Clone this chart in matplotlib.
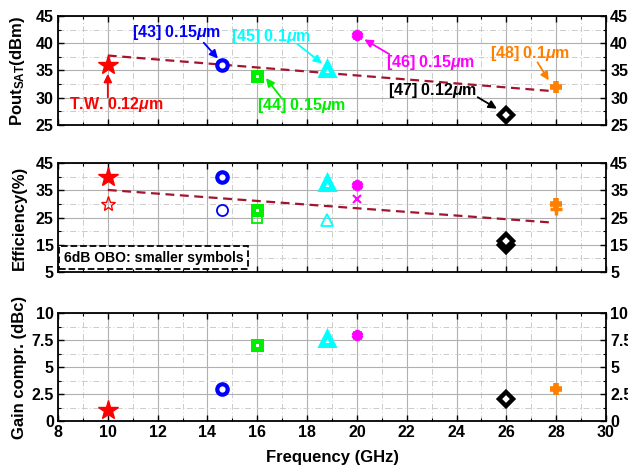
import matplotlib
matplotlib.use("Agg")
import matplotlib.pyplot as plt
from matplotlib.ticker import MultipleLocator, FixedLocator
import numpy as np

plt.rcParams['font.family'] = ['Liberation Sans', 'DejaVu Sans']
plt.rcParams['font.weight'] = 'bold'
plt.rcParams['mathtext.fontset'] = 'custom'
plt.rcParams['mathtext.rm'] = 'Liberation Sans:bold'
plt.rcParams['mathtext.bf'] = 'Liberation Sans:bold'
plt.rcParams['mathtext.it'] = 'Liberation Sans:italic'

# ---------------- data ----------------
labels = ["T.W.", "[43]", "[44]", "[45]", "[46]", "[47]", "[48]"]
freq = [10, 14.6, 16, 18.8, 20, 26, 28]
pout = [36, 36, 34, 35.3, 41.5, 26.8, 32]
eff = [40, 39.7, 27.8, 37.5, 36.8, 16.5, 30]
eff_obo = [30, 27.8, 24.8, 24, 31.8, 14.8, 28]
gain_compr = [1, 3, 7, 7.6, 8, 2, 3]
colors = ['#ff0000', '#0000ff', '#00ee00', '#00ffff', '#ff00ff', '#000000', '#ff8000']

trend_f = [10, 27.9]
trend_pout = [37.75, 31.2]
trend_eff = [35.1, 23.1]

ann_text = ["T.W. 0.12$\\mu$m", "[43] 0.15$\\mu$m", "[44] 0.15$\\mu$m", "[45] 0.1$\\mu$m",
            "[46] 0.15$\\mu$m", "[47] 0.12$\\mu$m", "[48] 0.1$\\mu$m"]
ann_xy_text = [(10.33, 28.67), (12.76, 41.9), (17.76, 28.5), (16.55, 41.15),
               (22.97, 36.4), (23.05, 31.4), (26.95, 38.2)]
ann_tail = [(10, 30.1), (13.85, 40.1), (16.95, 30.1), (17.6, 39.9),
            (21.3, 38.0), (24.85, 30.1), (27.25, 36.5)]
ann_head = [(10, 34.4), (14.42, 37.2), (16.35, 33.6), (18.6, 36.3),
            (20.3, 40.7), (25.62, 28.0), (27.7, 33.2)]

# marker styles (main / OBO)
main_style = [
    dict(marker='*', ms=15, mfc='#ff0000', mec='#ff0000', mew=1),
    dict(marker='o', ms=7.5, mfc='white', mec='#0000ff', mew=3),
    dict(marker='s', ms=6, mfc='white', mec='#00ee00', mew=3.6),
    dict(marker='^', ms=9, mfc='white', mec='#00ffff', mew=3.6),
    dict(marker=(6, 1, 0), ms=7, mfc='#ff00ff', mec='#ff00ff', mew=3),
    dict(marker='D', ms=7.5, mfc='white', mec='#000000', mew=3.2),
    dict(marker='+', ms=9, mfc='#ff8000', mec='#ff8000', mew=4),
]
obo_style = [
    dict(marker='*', ms=11, mfc='none', mec='#ff0000', mew=1),
    dict(marker='o', ms=8, mfc='none', mec='#0000ff', mew=1.3),
    dict(marker='s', ms=7, mfc='none', mec='#00ee00', mew=1.3),
    dict(marker='^', ms=9, mfc='none', mec='#00ffff', mew=1.3),
    dict(marker='x', ms=6, mfc='none', mec='#ff00ff', mew=1.5),
    dict(marker='D', ms=7, mfc='white', mec='#000000', mew=3.2),
    dict(marker='+', ms=8, mfc='#ff8000', mec='#ff8000', mew=2.5),
]

trend_color = '#a3142e'

W, H = 628, 468
fig = plt.figure(figsize=(W / 100, H / 100), dpi=100)

left = 58 / W
width = (606 - 58) / W


def mkax(top_px, bot_px):
    return fig.add_axes([left, 1 - bot_px / H, width, (bot_px - top_px) / H])


ax1 = mkax(16, 125)
ax2 = mkax(163, 272)
ax3 = mkax(313, 421)


def style(ax, ylim, ymaj_ticks, ymin_ticks, xlabels):
    ax.set_xlim(8, 30)
    ax.set_ylim(*ylim)
    ax.xaxis.set_major_locator(MultipleLocator(2))
    ax.xaxis.set_minor_locator(MultipleLocator(1))
    ax.yaxis.set_major_locator(FixedLocator(ymaj_ticks))
    ax.yaxis.set_minor_locator(FixedLocator(ymin_ticks))
    ax.grid(True, which='major', color='#b0b0b0', lw=0.8, ls='-')
    ax.grid(True, which='minor', color='#cccccc', lw=0.7, ls=(0, (6, 2.5, 1, 2.5)))
    ax.set_axisbelow(True)
    ax.tick_params(which='both', direction='in', top=True, right=True,
                   labelright=True, labelsize=11.5, pad=3)
    ax.tick_params(which='major', length=4, width=1)
    ax.tick_params(which='minor', length=2, width=0.8)
    ax.tick_params(axis='x', labelbottom=xlabels)
    for s in ax.spines.values():
        s.set_linewidth(1.3)


style(ax1, (25, 45), [25, 30, 35, 40, 45], [27.5, 32.5, 37.5, 42.5], False)
style(ax2, (5, 45), [5, 15, 25, 35, 45], [10, 20, 30, 40], False)
style(ax3, (0, 10), [0, 2.5, 5, 7.5, 10], [1.25, 3.75, 6.25, 8.75], True)
ax3.yaxis.set_major_formatter(plt.FuncFormatter(lambda v, p: f"{v:g}"))

# top panel
ax1.plot(trend_f, trend_pout, color=trend_color, lw=1.6, ls=(0, (4, 2.5)), zorder=2)
for i in range(len(freq)):
    ax1.plot(freq[i], pout[i], ls='none', zorder=3, **main_style[i])
for i in range(len(freq)):
    ax1.annotate('', xy=ann_head[i], xytext=ann_tail[i],
                 arrowprops=dict(arrowstyle='-|>', color=colors[i], lw=1.3,
                                 mutation_scale=12, shrinkA=0, shrinkB=0), zorder=4)
    ax1.text(ann_xy_text[i][0], ann_xy_text[i][1], ann_text[i], color=colors[i],
             ha='center', va='center', fontsize=11.5, fontweight='bold', zorder=5)

# middle panel
ax2.plot(trend_f, trend_eff, color=trend_color, lw=1.6, ls=(0, (4, 2.5)), zorder=2)
for i in range(len(freq)):
    ax2.plot(freq[i], eff_obo[i], ls='none', zorder=3, **obo_style[i])
    ax2.plot(freq[i], eff[i], ls='none', zorder=4, **main_style[i])
ax2.text(11.83, 10.3, "6dB OBO: smaller symbols", ha='center', va='center',
         fontsize=10, fontweight='bold',
         bbox=dict(boxstyle='square,pad=0.35', fc='white', ec='black', ls='--', lw=1.3))

# bottom panel
for i in range(len(freq)):
    ax3.plot(freq[i], gain_compr[i], ls='none', zorder=3, **main_style[i])

ax1.set_ylabel("Pout$_{\\mathbf{SAT}}$(dBm)", fontsize=12, fontweight='bold')
ax2.set_ylabel("Efficiency(%)", fontsize=12, fontweight='bold')
ax3.set_ylabel("Gain compr. (dBc)", fontsize=12, fontweight='bold')
for ax in (ax1, ax2, ax3):
    ax.yaxis.set_label_coords(-0.056, 0.5)
ax3.set_xlabel("Frequency (GHz)", fontsize=12, fontweight='bold', labelpad=7)

fig.savefig("out.png", dpi=100)
